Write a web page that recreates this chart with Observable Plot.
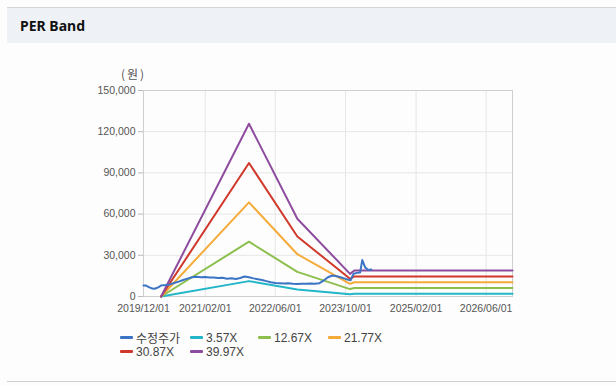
<!DOCTYPE html>
<html><head><meta charset="utf-8">
<script src="https://cdn.jsdelivr.net/npm/d3@7"></script>
<script src="https://cdn.jsdelivr.net/npm/@observablehq/plot@0.6"></script>
<style>
html,body{margin:0;padding:0;width:616px;height:386px;background:#fdfdfd;overflow:hidden;position:relative;font-family:"Liberation Sans",Arial,sans-serif;}
#topline{position:absolute;left:7px;top:7px;width:609px;height:1px;background:#d4d6d9;}
#header{position:absolute;left:7px;top:8px;width:609px;height:35px;background:#eef2f7;}
#title{position:absolute;left:13px;top:8px;font-family:"Noto Sans","Open Sans",sans-serif;font-weight:bold;font-size:14px;color:#111;}
#unit{position:absolute;left:121px;top:65px;font-size:12px;color:#555;letter-spacing:2px;font-family:"Noto Sans CJK KR","Liberation Sans",sans-serif;}
#chart{position:absolute;left:0;top:60px;}
#legend{position:absolute;left:120px;top:330px;font-size:12px;color:#444;}
.item{position:absolute;white-space:nowrap;display:flex;align-items:center;height:15px;}
.sw{display:inline-block;width:13px;height:3px;margin-right:3px;border-radius:1px;}
.ko{font-family:"Noto Sans CJK KR",sans-serif;font-size:12px;}
#bottomline{position:absolute;left:7px;top:381px;width:609px;height:1px;background:#d0d0d0;}
</style></head>
<body>
<div id="topline"></div>
<div id="header"><div id="title">PER Band</div></div>
<div id="unit">(원)</div>
<div id="chart"></div>
<div id="legend"></div>
<div id="bottomline"></div>
<script>
// ---- data ----
const tickDates = ["2019-12-01","2021-02-01","2022-06-01","2023-10-01","2025-02-01","2026-06-01"];
const yTicks = [0, 30000, 60000, 90000, 120000, 150000];
const seriesNames = ["수정주가","3.57X","12.67X","21.77X","30.87X","39.97X"];
const seriesColors = ["#3b74c4","#22b6c8","#8dbf4f","#f4ab3a","#d0382b","#8e4c9f"];

const priceDates = ["2019-12-01","2019-12-15","2020-01-01","2020-01-15","2020-02-01","2020-02-15","2020-03-01","2020-03-15","2020-04-01","2020-05-01","2020-06-01","2020-07-01","2020-08-01","2020-09-01","2020-10-01","2020-11-01","2020-12-01","2021-01-01","2021-02-01","2021-03-01","2021-04-01","2021-05-01","2021-06-01","2021-07-01","2021-08-01","2021-09-01","2021-10-01","2021-11-01","2021-12-01","2022-01-01","2022-02-01","2022-03-01","2022-04-01","2022-05-01","2022-06-01","2022-07-01","2022-08-01","2022-09-01","2022-10-01","2022-11-01","2022-12-01","2023-01-01","2023-02-01","2023-03-01","2023-04-01","2023-05-01","2023-06-01","2023-07-01","2023-08-01","2023-09-01","2023-10-01","2023-11-05","2023-11-25","2023-12-20","2024-01-10","2024-01-25","2024-02-15","2024-03-07","2024-03-28"];
const priceValues = [8000,8100,7200,6500,5800,5600,6200,6800,8000,8300,8800,9800,10800,12000,13000,14000,14300,14000,14200,13800,13900,13400,13600,13000,13300,12800,13500,14600,14000,13200,12600,12000,11200,10400,9900,9700,9400,9600,9200,9100,9300,9200,9400,9300,9600,11500,14000,15300,14800,13800,12800,11800,16500,17200,17500,26500,21000,19300,19600];

const bandDates = ["2020-04-01","2021-12-01","2022-11-01","2023-11-01","2023-12-01","2026-12-01"];
const band357 = [0, 11200, 5100, 1700, 2000, 2000];
const band1267 = [0, 39900, 17900, 5400, 6200, 6200];
const band2177 = [0, 68500, 30800, 9200, 10400, 10400];
const band3087 = [0, 97200, 43700, 12900, 14600, 14600];
const band3997 = [0, 125800, 56600, 16500, 18900, 18900];

// ---- build ----
const parse = s => new Date(s + "T00:00:00Z");
const rows = [];
priceDates.forEach((d, i) => rows.push({s: seriesNames[0], date: parse(d), v: priceValues[i]}));
const bands = [band357, band1267, band2177, band3087, band3997];
bands.forEach((b, k) => bandDates.forEach((d, i) => rows.push({s: seriesNames[k + 1], date: parse(d), v: b[i]})));
const order = [seriesNames[1], seriesNames[2], seriesNames[3], seriesNames[4], seriesNames[5], seriesNames[0]];

const chart = Plot.plot({
  width: 616,
  height: 261,
  marginTop: 30,
  marginBottom: 25,
  marginLeft: 143,
  marginRight: 104,
  style: {fontFamily: "'Liberation Sans', Arial, sans-serif", fontSize: "10.5px", background: "transparent", color: "#555"},
  x: {type: "utc", domain: [parse("2019-12-01"), parse("2026-12-01")]},
  y: {domain: [0, 150000]},
  color: {domain: seriesNames, range: seriesColors},
  marks: [
    Plot.gridY(yTicks, {stroke: "#e6e6e6", strokeOpacity: 1}),
    Plot.gridX(tickDates.map(parse), {stroke: "#e6e6e6", strokeOpacity: 1}),
    Plot.frame({stroke: "#cfcfcf"}),
    Plot.axisY(yTicks, {tickSize: 5, tickPadding: 3, stroke: "#bbb", fill: "#555", tickFormat: d3.format(","), label: null}),
    Plot.axisX(tickDates.map(parse), {tickSize: 0, tickPadding: 8, fill: "#555", tickFormat: d3.utcFormat("%Y/%m/%d"), label: null}),
    ...order.map(name => Plot.line(rows.filter(r => r.s === name), {x: "date", y: "v", stroke: "s", strokeWidth: 2, curve: "linear"}))
  ]
});
document.getElementById("chart").appendChild(chart);

// legend
const pos = [[0,0],[70,0],[138,0],[208,0],[0,14],[70,14]];
const leg = document.getElementById("legend");
seriesNames.forEach((n, i) => {
  const it = document.createElement("div");
  it.className = "item";
  it.style.left = pos[i][0] + "px";
  it.style.top = pos[i][1] + "px";
  const sw = document.createElement("span");
  sw.className = "sw";
  sw.style.background = seriesColors[i];
  const tx = document.createElement("span");
  tx.textContent = n;
  if (i === 0) tx.className = "ko";
  it.appendChild(sw); it.appendChild(tx);
  leg.appendChild(it);
});
</script>
</body></html>
